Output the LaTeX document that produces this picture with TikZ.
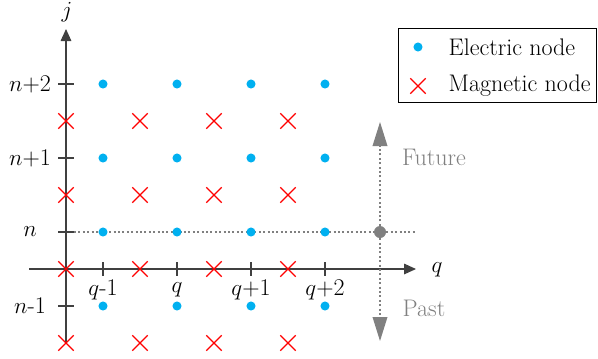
\documentclass[tikz,border=0pt]{standalone}
\usepackage{fontspec}
\usepackage{tikz}
\usetikzlibrary{arrows.meta,positioning,shapes.misc}
\definecolor{elec}{RGB}{0,176,240}
\definecolor{axisgray}{RGB}{64,64,64}
\definecolor{timegray}{RGB}{128,128,128}

\begin{document}
\begin{tikzpicture}[
                x=0.75pt, y=-0.75pt,
                font=\fontsize{18}{21}\selectfont,
                elnode/.style={circle, fill=elec, inner sep=0pt, minimum size=6.8pt},
                magnode/.style={cross out, draw=red, line width=1pt, inner sep=0pt, minimum size=10.5pt},
                axis/.style={draw=axisgray, line width=0.8pt, -{Triangle[length=9pt,width=8pt]}},
                tickmark/.style={draw=axisgray, line width=0.8pt},
                guide/.style={draw=timegray, line width=1pt, dash pattern=on 1.5pt off 1.8pt},
                timearrow/.style={guide, -{Triangle[length=18pt,width=11pt]}}
            ]
            \useasboundingbox (0,0) rectangle (598,358);
            % axes
            \coordinate (jbot) at (66,343);
            \coordinate (jtop) at (66,29);
            \coordinate (qleft) at (29,269);
            \coordinate (qright) at (416,269);
            \draw[axis] (jbot) -- (jtop);
            \draw[axis] (qleft) -- (qright);
            \node (jlab) at (67,12) {$j$};
            \node (qlab) at (437,270) {$q$};
            % ticks and their labels
            \foreach \y/\lab [count=\i] in {84/$n$+2, 158/$n$+1, 232/$n$, 306/$n$-1} {
                \draw[tickmark] (58,\y) -- (74,\y);
                \node (row\i) at (30,\y) {\lab};
            }
            \foreach \x/\lab [count=\i] in {103/$q$-1, 177/$q$, 251/$q$+1, 325/$q$+2} {
                \draw[tickmark] (\x,262) -- (\x,276);
                \node (col\i) at (\x,290) {\lab};
            }
            % time line through the present node
            \coordinate (nleft) at (74,232);
            \coordinate (nright) at (416,232);
            \draw[guide] (nleft) -- (nright);
            \node[circle, fill=timegray, inner sep=0pt, minimum size=9pt] (now) at (380,232) {};
            \coordinate (futr) at (380,122);
            \coordinate (past) at (380,341);
            \draw[timearrow] (now) -- (futr);
            \draw[timearrow] (now) -- (past);
            \node[text=timegray] (future) at (434,157) {Future};
            \node[text=timegray] (pastlab) at (424,308) {Past};
            % grid of nodes
            \foreach \x in {103,177,251,325}
                \foreach \y in {84,158,232,306}
                    \node[elnode] at (\x,\y) {};
            \foreach \x in {66,140,214,288}
                \foreach \y in {121,195,269,343}
                    \node[magnode] at (\x,\y) {};
            % legend
            \node[draw=black, line width=0.8pt, inner sep=0pt, minimum width=148pt,
                  minimum height=55.5pt] (legend) at (497.5,65.5) {};
            \node[elnode] (legE) at (418,47) {};
            \node[magnode] (legM) at (418,86) {};
            \node[anchor=west] (legEtxt) at (444,47) {Electric node};
            \node[anchor=west] (legMtxt) at (444,86) {Magnetic node};
\end{tikzpicture}
\end{document}
